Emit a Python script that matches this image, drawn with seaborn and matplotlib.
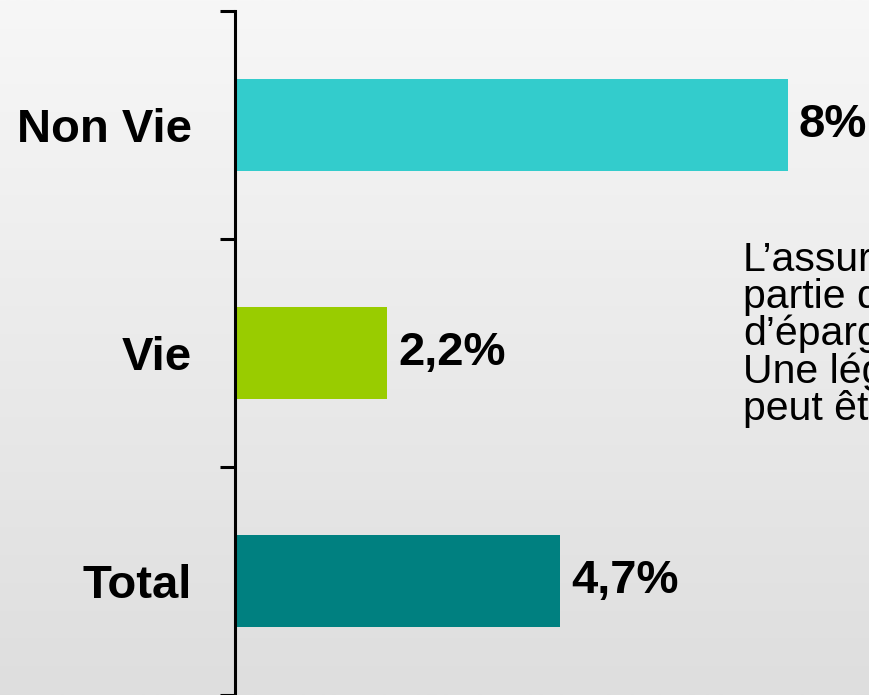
import numpy as np
import matplotlib.pyplot as plt
from matplotlib.colors import LinearSegmentedColormap
import seaborn as sns

# data
categories = ["Non Vie", "Vie", "Total"]
values = [8, 2.2, 4.7]
value_labels = ["8%", "2,2%", "4,7%"]
colors = ["#33CCCC", "#99CC00", "#008080"]
note_lines = ["L\u2019assurance", "partie des", "d\u2019\u00e9pargne", "Une l\u00e9g\u00e8re", "peut \u00eatre"]

sns.set_theme(style="white")
plt.rcParams["font.family"] = ["Liberation Sans", "DejaVu Sans"]

fig = plt.figure(figsize=(8.69, 6.95), dpi=100)

# grey gradient background
bg = fig.add_axes([0, 0, 1, 1], zorder=-1)
grad = np.linspace(0, 1, 256).reshape(-1, 1)
cmap = LinearSegmentedColormap.from_list("bg", ["#f7f7f7", "#dedede"])
bg.imshow(grad, aspect="auto", cmap=cmap, extent=[0, 1, 0, 1], origin="upper")
bg.axis("off")

ax = fig.add_axes([235 / 869, 0.0, 634 / 869, 684 / 695])
ax.patch.set_alpha(0)

sns.barplot(x=values, y=categories, hue=categories, palette=colors, orient="h",
            width=0.4, saturation=1, legend=False, linewidth=0, ax=ax)

ax.set_xlim(0, 634 / 69.1)
ax.set_ylim(2.5, -0.5)

# value labels at the bar ends
i = 0
for cont in ax.containers:
    labs = value_labels[i:i + len(cont)]
    ax.bar_label(cont, labels=labs, padding=8, fontsize=34, fontweight="bold", color="black")
    i += len(cont)

# axis styling
for side in ["top", "right", "bottom"]:
    ax.spines[side].set_visible(False)
ax.spines["left"].set_color("black")
ax.spines["left"].set_linewidth(2.2)
ax.set_xticks([])
ax.set_xlabel("")
ax.set_ylabel("")
ax.set_yticks([-0.5, 0.5, 1.5, 2.5], minor=True)
ax.tick_params(axis="y", which="major", length=0, pad=31, labelsize=34, labelcolor="black")
ax.tick_params(axis="y", which="minor", length=11, width=2.2, color="black", left=True)
for t in ax.get_yticklabels():
    t.set_fontweight("bold")

# side note (cut by the right edge, as in the original slide)
baselines = [271, 308, 345, 383, 420]
for line, yb in zip(note_lines, baselines):
    fig.text(743 / 869, 1 - yb / 695, line, fontsize=29.5, color="black", va="baseline", ha="left")

fig.savefig("out.png", dpi=100)
